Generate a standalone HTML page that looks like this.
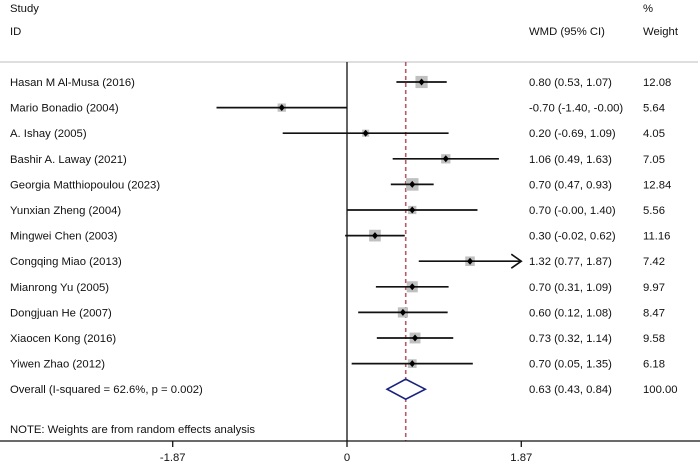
<!DOCTYPE html>
<html><head><meta charset="utf-8"><style>
html,body{margin:0;padding:0;background:#fff}
svg{display:block;font-family:"Liberation Sans",Arial,sans-serif}
</style></head><body>
<svg id="plot" width="700" height="464" xmlns="http://www.w3.org/2000/svg"></svg>
<script>
const studies = ["Hasan M Al-Musa (2016)","Mario Bonadio (2004)","A. Ishay (2005)","Bashir A. Laway (2021)","Georgia Matthiopoulou (2023)","Yunxian Zheng (2004)","Mingwei Chen (2003)","Congqing Miao (2013)","Mianrong Yu (2005)","Dongjuan He (2007)","Xiaocen Kong (2016)","Yiwen Zhao (2012)"];
const est = [0.80,-0.70,0.20,1.06,0.70,0.70,0.30,1.32,0.70,0.60,0.73,0.70];
const lo = [0.53,-1.40,-0.69,0.49,0.47,-0.00,-0.02,0.77,0.31,0.12,0.32,0.05];
const hi = [1.07,-0.00,1.09,1.63,0.93,1.40,0.62,1.87,1.09,1.08,1.14,1.35];
const weights = [12.08,5.64,4.05,7.05,12.84,5.56,11.16,7.42,9.97,8.47,9.58,6.18];
const overallEst = 0.63, overallLo = 0.43, overallHi = 0.84;
const overallLabel = "Overall  (I-squared = 62.6%, p = 0.002)";
const ticks = [-1.87, 0, 1.87];
const tickLabels = ["-1.87","0","1.87"];
const axMax = 1.87;

const svg = document.getElementById('plot');
const NS = "http://www.w3.org/2000/svg";
const X = v => 347 + v * 93.2;
const Y = i => 82 + i * 25.6;
function mk(tag, attrs, parent){const e=document.createElementNS(NS,tag);for(const k in attrs)e.setAttribute(k,attrs[k]);(parent||svg).appendChild(e);return e;}
function txt(x,y,s,anchor){const t=mk('text',{x:x,y:y,'font-size':11.3,fill:'#111','text-anchor':anchor||'start'});t.textContent=s;return t;}
const fmt = v => (v<0||Object.is(v,-0)?"-":"")+Math.abs(v).toFixed(2);

let t;
t=txt(10,12,"Study");

t=txt(10,35,"ID");

t=txt(643,12,"%");

t=txt(529,35,"WMD (95% CI)");

t=txt(643,35,"Weight");


let l=mk('line',{x1:0,x2:698,y1:62,y2:62,stroke:'#d4d4d4','stroke-width':1.5});


l=mk('line',{x1:X(0),x2:X(0),y1:62,y2:441,stroke:'#111','stroke-width':1.3});

l=mk('line',{x1:X(overallEst),x2:X(overallEst),y1:62,y2:441,stroke:'#b55a6c','stroke-width':1.6,'stroke-dasharray':'4,3'});


studies.forEach((s,i)=>{
  const y=Y(i);
  const g=mk('g',{});
  
  
  const n=txt(10,y+4,s);n.remove();g.appendChild(n);
  const side=3.5*Math.sqrt(weights[i]);
  const r=mk('rect',{x:X(est[i])-side/2,y:y-side/2,width:side,height:side,fill:'#c0c0c0'},g);
  
  
  const clipped=hi[i]>=axMax;
  const x2=X(Math.min(hi[i],axMax));
  const c=mk('line',{x1:X(lo[i]),x2:x2,y1:y,y2:y,stroke:'#111','stroke-width':1.7},g);
  
  
  if(clipped){
    const a=mk('path',{d:`M${x2-10},${y-7} L${x2},${y} L${x2-10},${y+7}`,fill:'none',stroke:'#111','stroke-width':1.6},g);
    
    
  }
  const p=mk('path',{d:`M${X(est[i])},${y-3.5} L${X(est[i])+3},${y} L${X(est[i])},${y+3.5} L${X(est[i])-3},${y} Z`,fill:'#000'},g);
  
  
  const e=txt(529,y+4,`${est[i].toFixed(2)} (${fmt(lo[i])}, ${fmt(hi[i])})`);e.remove();g.appendChild(e);
  
  
  const w=txt(643,y+4,weights[i].toFixed(2));w.remove();g.appendChild(w);
  
  
});

const oy=Y(12);
t=txt(10,oy+4,overallLabel);

const d=mk('path',{d:`M${X(overallLo)},${oy} L${X(overallEst)},${oy-10} L${X(overallHi)},${oy} L${X(overallEst)},${oy+10} Z`,fill:'#fff',stroke:'#1a237e','stroke-width':1.6});

t=txt(529,oy+4,`${overallEst.toFixed(2)} (${fmt(overallLo)}, ${fmt(overallHi)})`);

t=txt(643,oy+4,"100.00");


t=txt(10,433,"NOTE: Weights are from random effects analysis");


l=mk('line',{x1:0,x2:700,y1:441,y2:441,stroke:'#111','stroke-width':1.3});

ticks.forEach((v,i)=>{
  const tk=mk('line',{x1:X(v),x2:X(v),y1:441,y2:447,stroke:'#111','stroke-width':1.3});
  
  
  const tl=txt(X(v),461,tickLabels[i],'middle');
  
  
});
</script>
</body></html>
